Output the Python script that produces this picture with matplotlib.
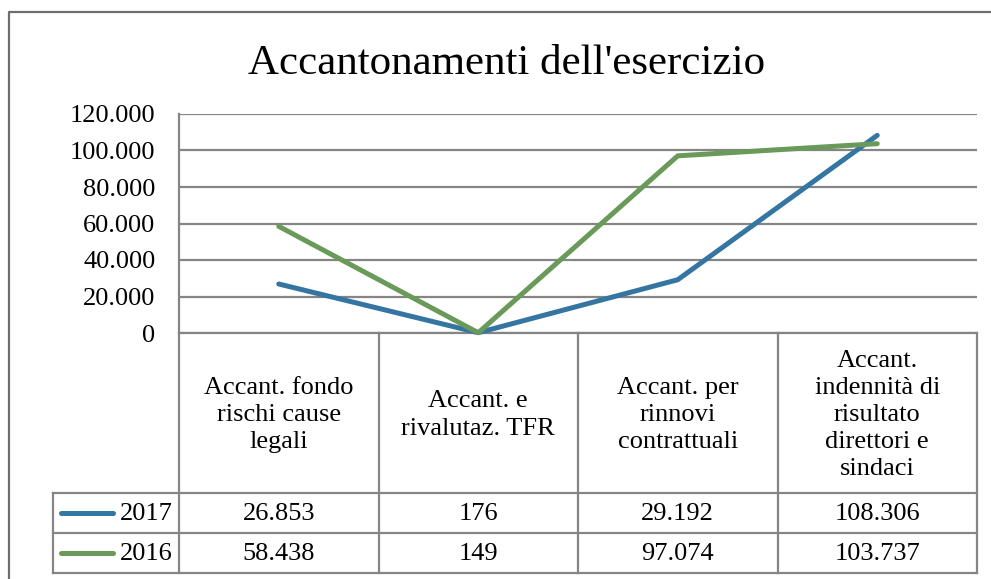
import matplotlib
matplotlib.use("Agg")
import matplotlib.pyplot as plt
from matplotlib.lines import Line2D

# Data
categories = [
    "Accant. fondo\nrischi cause\nlegali",
    "Accant. e\nrivalutaz. TFR",
    "Accant. per\nrinnovi\ncontrattuali",
    "Accant.\nindennità di\nrisultato\ndirettori e\nsindaci",
]
series_names = ["2017", "2016"]
values_2017 = [26853, 176, 29192, 108306]
values_2016 = [58438, 149, 97074, 103737]
y_ticks = [0, 20000, 40000, 60000, 80000, 100000, 120000]
series_colors = ["#3575a2", "#6a9a5a"]

plt.rcParams['font.family'] = ['Liberation Serif', 'DejaVu Serif']

W, H = 991, 579
fig = plt.figure(figsize=(W / 100, H / 100), dpi=100)

# layout in pixels
x0, x1 = 179, 977
y_top, y_zero = 114, 333
y_head, y_r1, y_r2 = 493, 533, 573
x_leg = 53
grid_col = "#858585"

def fmt(v):
    return f"{v:,}".replace(",", ".")

# overlay axes in pixel coordinates for frame and table
ov = fig.add_axes([0, 0, 1, 1], zorder=0)
ov.set_xlim(0, W)
ov.set_ylim(H, 0)
ov.axis('off')

# outer chart frame
ov.plot([9, 9, W + 5], [H + 5, 12, 12], color="#6e6e6e", lw=1.6)

ov.text(507, 64, "Accantonamenti dell'esercizio", fontsize=31,
        ha='center', va='center', color="black")

# plot area
ax = fig.add_axes([x0 / W, 1 - y_zero / H, (x1 - x0) / W, (y_zero - y_top) / H], zorder=1)
ax.patch.set_alpha(0)
n = len(categories)
xs = list(range(n))
ax.set_xlim(-0.5, n - 0.5)
ax.set_ylim(0, 120000)
for s in ax.spines.values():
    s.set_visible(False)
ax.set_yticks(y_ticks)
ax.set_yticklabels([fmt(t) for t in y_ticks], fontsize=19)
ax.tick_params(axis='y', length=0, pad=17)
ax.set_xticks([])
ax.grid(axis='y', color=grid_col, lw=1.6)
ax.set_axisbelow(True)

for vals, col in zip([values_2017, values_2016], series_colors):
    ax.plot(xs, vals, color=col, lw=3.6, solid_capstyle='round',
            solid_joinstyle='round', clip_on=False, zorder=3)

# data table
col_w = (x1 - x0) / n
line_kw = dict(color=grid_col, lw=1.6)
ov.plot([x0, x0], [y_top, y_r2], **line_kw)
for i in range(1, n + 1):
    ov.plot([x0 + i * col_w] * 2, [y_zero, y_r2], **line_kw)
ov.plot([x0, x1], [y_zero, y_zero], **line_kw)
for yy in [y_head, y_r1, y_r2]:
    ov.plot([x_leg, x1], [yy, yy], **line_kw)
ov.plot([x_leg, x_leg], [y_head, y_r2], **line_kw)

for i, cat in enumerate(categories):
    cx = x0 + (i + 0.5) * col_w
    ov.text(cx, (y_zero + y_head) / 2 + 2, cat, fontsize=19, ha='center',
            va='center', linespacing=1.3, multialignment='center')

rows = [values_2017, values_2016]
for r, (name, vals, col) in enumerate(zip(series_names, rows, series_colors)):
    yc = (y_head + r * 40 + y_head + (r + 1) * 40) / 2
    ov.add_line(Line2D([61, 113], [yc, yc], color=col, lw=3.6, solid_capstyle='round'))
    ov.text(173, yc + 1, name, fontsize=19, ha='right', va='center')
    for i, v in enumerate(vals):
        ov.text(x0 + (i + 0.5) * col_w, yc + 1, fmt(v), fontsize=19,
                ha='center', va='center')

fig.savefig("out.png", dpi=100)
